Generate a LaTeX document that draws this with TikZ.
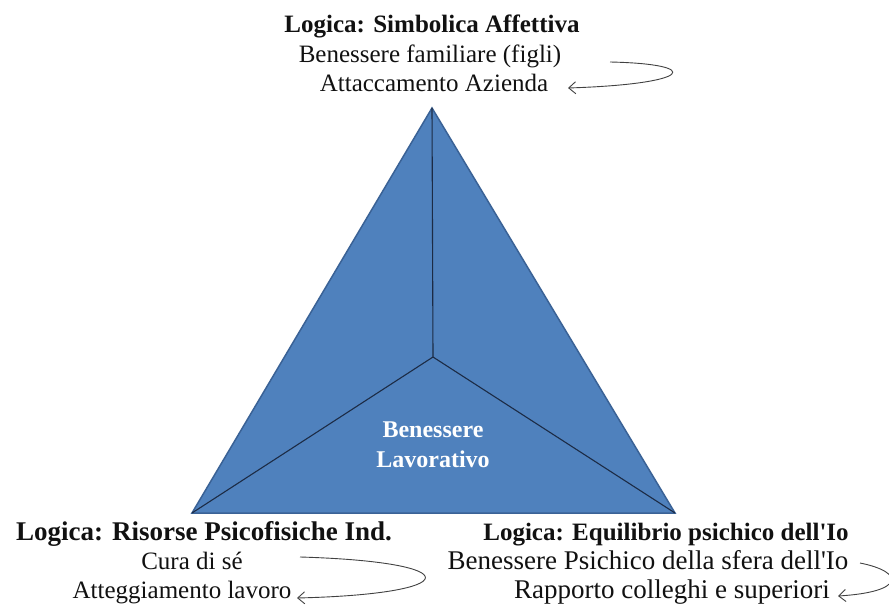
\documentclass[tikz,border=0pt]{standalone}
\usepackage{fontspec}
\setmainfont{Liberation Serif}[Ligatures=TeXOff]
\usetikzlibrary{arrows.meta}
\definecolor{pyrfill}{HTML}{4F81BD}
\definecolor{pyredge}{HTML}{3A6296}
\definecolor{pyrinner}{HTML}{1C2B45}
\definecolor{txt}{HTML}{111111}
\begin{document}
\begin{tikzpicture}[x=1pt,y=-1pt,
  lbl/.style={anchor=base,inner sep=0pt,text=txt,font=\fontsize{25}{30}\selectfont},
  lblbig/.style={lbl,font=\fontsize{27}{30}\selectfont},
  hdr/.style={lbl,font=\fontsize{25}{30}\selectfont\bfseries},
  hdrbig/.style={lbl,font=\fontsize{27}{30}\selectfont\bfseries},
  ctr/.style={anchor=base,inner sep=0pt,text=white,font=\fontsize{24}{30}\selectfont\bfseries},
  loop/.style={draw=txt!80,line width=0.9pt,-{Straight Barb[length=7pt,width=12pt]}}]
\useasboundingbox (0,0) rectangle (889,612);
\fill[white] (0,0) rectangle (889,612);
% pyramid
\coordinate (A) at (432,108);
\coordinate (L) at (192,513);
\coordinate (R) at (675,513);
\coordinate (C) at (433,357);
\filldraw[fill=pyrfill,draw=pyredge,line width=1.5pt,line join=miter] (A) -- (R) -- (L) -- cycle;
\draw[pyrinner,line width=1.1pt] (A) -- (C) (L) -- (C) -- (R);
\node[ctr] (c1) at (433,437) {Benessere};
\node[ctr] (c2) at (433,467) {Lavorativo};
% top labels
\node[hdr] (t1) at (432,33) {Logica: Simbolica Affettiva};
\node[lbl] (t2) at (430,63) {Benessere familiare (figli)};
\node[lbl] (t3) at (434,92) {Attaccamento Azienda};
% bottom-left labels
\node[hdrbig] (l1) at (204,540) {Logica: Risorse Psicofisiche Ind.};
\node[lbl] (l2) at (192,569) {Cura di sé};
\node[lbl] (l3) at (182,598) {Atteggiamento lavoro};
% bottom-right labels
\node[hdr] (r1) at (666,540) {Logica: Equilibrio psichico dell'Io};
\node[lblbig] (r2) at (648,569) {Benessere Psichico della sfera dell'Io};
\node[lblbig] (r3) at (672,598) {Rapporto colleghi e superiori};
% loop arrows
\coordinate (ts) at (610,62);
\coordinate (te) at (568,88);
\draw[loop] (ts) .. controls (704,64) and (694,84) .. (te);
\coordinate (ls) at (300,557);
\coordinate (le) at (297,598);
\draw[loop] (ls) .. controls (470,562) and (465,594) .. (le);
\coordinate (rs) at (860,563);
\coordinate (re) at (838,596);
\draw[loop] (rs) .. controls (905,572) and (905,592) .. (re);
\end{tikzpicture}
\end{document}
